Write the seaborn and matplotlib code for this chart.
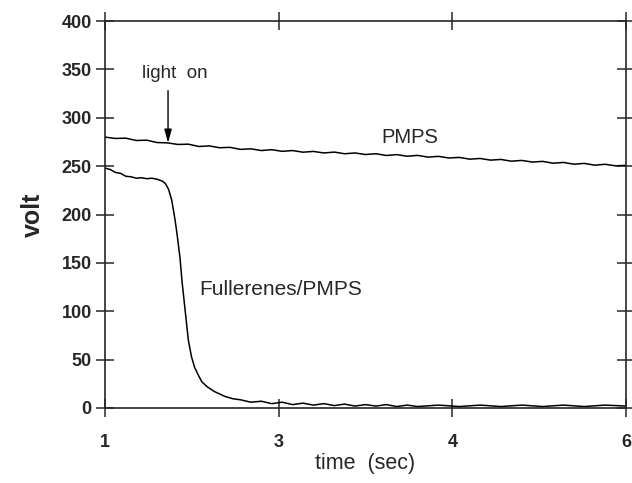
import numpy as np
import pandas as pd
import matplotlib
matplotlib.use("Agg")
import matplotlib.pyplot as plt
import seaborn as sns

# ---- data ----
t_pmps = [1.0, 1.1, 1.2, 1.3, 1.4, 1.5, 1.6, 1.7, 1.8, 1.9,
          2.0, 2.1, 2.2, 2.3, 2.4, 2.5, 2.6, 2.7, 2.8, 2.9,
          3.0, 3.1, 3.2, 3.3, 3.4, 3.5, 3.6, 3.7, 3.8, 3.9,
          4.0, 4.1, 4.2, 4.3, 4.4, 4.5, 4.6, 4.7, 4.8, 4.9,
          5.0, 5.1, 5.2, 5.3, 5.4, 5.5, 5.6, 5.7, 5.8, 5.9, 6.0]
v_pmps = [280.0, 278.6, 278.9, 276.5, 276.8, 274.4, 274.0, 272.4, 272.7, 270.3,
          270.9, 269.0, 269.4, 267.3, 267.9, 266.1, 267.0, 265.3, 266.1, 264.4,
          265.2, 263.6, 264.5, 262.8, 263.6, 262.0, 262.8, 261.0, 261.9, 260.2,
          261.1, 259.3, 260.1, 258.4, 259.0, 257.2, 257.9, 256.2, 256.9, 255.1,
          255.9, 254.2, 254.9, 253.0, 253.8, 252.0, 252.8, 251.0, 251.9, 250.3, 250.8]

t_full = [1.00, 1.05, 1.10, 1.15, 1.20, 1.25, 1.30, 1.35, 1.40, 1.45,
          1.50, 1.55, 1.58, 1.61, 1.64, 1.67, 1.69, 1.72, 1.74, 1.77,
          1.80, 1.83, 1.86, 1.90, 1.93, 1.98, 2.05, 2.10, 2.15, 2.23,
          2.30, 2.40, 2.50, 2.60, 2.70, 2.80, 2.90, 3.00, 3.10, 3.20,
          3.30, 3.40, 3.50, 3.60, 3.70, 3.80, 3.90, 4.00, 4.20, 4.40,
          4.60, 4.80, 5.00, 5.20, 5.40, 5.60, 5.80, 6.00]
v_full = [248.0, 246.5, 243.5, 242.5, 239.5, 239.0, 237.5, 238.0, 237.0, 237.5,
          236.5, 234.5, 232.0, 226.0, 215.0, 196.0, 181.0, 155.0, 130.0, 100.0,
          70.0, 53.0, 42.0, 33.0, 27.0, 22.0, 17.0, 14.5, 12.0, 9.5,
          8.5, 6.0, 7.0, 4.5, 6.0, 3.5, 5.0, 3.0, 4.5, 2.5,
          4.0, 2.0, 3.5, 2.0, 3.5, 1.5, 3.0, 1.5, 3.0, 1.5,
          3.0, 1.5, 3.0, 1.5, 3.0, 1.5, 3.0, 2.0]

tick_pos = [1, 8 / 3, 13 / 3, 6]
tick_lbl = ["1", "3", "4", "6"]
yticks = [0, 50, 100, 150, 200, 250, 300, 350, 400]

df = pd.concat([
    pd.DataFrame({"t": t_pmps, "v": v_pmps, "s": "PMPS"}),
    pd.DataFrame({"t": t_full, "v": v_full, "s": "Fullerenes/PMPS"}),
])

sns.set_style("ticks")
plt.rcParams["font.family"] = ["Liberation Sans", "DejaVu Sans"]

fig = plt.figure(figsize=(6.32, 4.83), dpi=100)
ax = fig.add_axes([105 / 632, 1 - 408 / 483, 521 / 632, 387 / 483])

sns.lineplot(data=df, x="t", y="v", units="s", estimator=None,
             color="black", lw=1.1, ax=ax, sort=False)

ax.set_xlim(1, 6)
ax.set_ylim(0, 400)
ax.set_xticks(tick_pos)
ax.set_xticklabels(tick_lbl)
ax.set_yticks(yticks)
for s in ax.spines.values():
    s.set_visible(True)
    s.set_linewidth(1.2)
ax.tick_params(direction="inout", length=13, width=1.1, top=True, right=True,
               labelsize=13)
ax.tick_params(axis="x", pad=12)
ax.tick_params(axis="y", pad=3)
for lab in ax.get_xticklabels() + ax.get_yticklabels():
    lab.set_fontweight("bold")

ax.set_xlabel("time  (sec)", fontsize=15.5, labelpad=2)
ax.set_ylabel("volt", fontsize=18, fontweight="bold", labelpad=12)

ax.annotate("", xy=(1.605, 274), xytext=(1.605, 328),
            arrowprops=dict(arrowstyle="-|>,head_width=0.22,head_length=0.8",
                            color="black", lw=1.0, shrinkA=0, shrinkB=0))
ax.text(1.67, 346, "light  on", fontsize=13.5, ha="center", va="center")
ax.text(3.93, 280, "PMPS", fontsize=14.5, ha="center", va="center")
ax.text(2.69, 122, "Fullerenes/PMPS", fontsize=15, ha="center", va="center")

fig.savefig("out.png", dpi=100)
